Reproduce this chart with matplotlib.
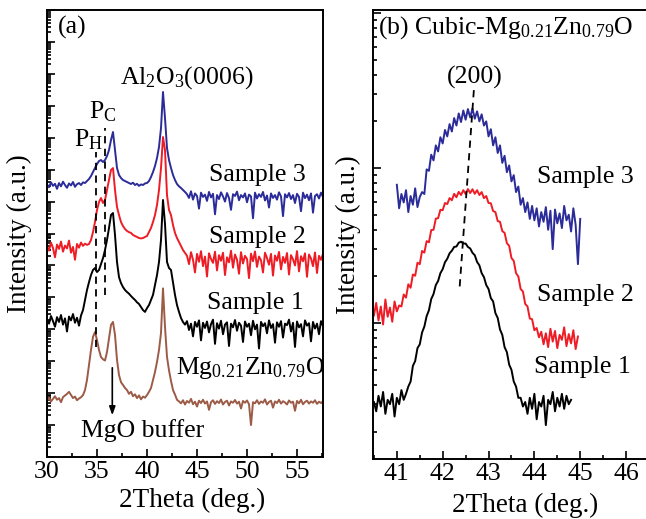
import numpy as np
import matplotlib
matplotlib.use("Agg")
import matplotlib.pyplot as plt
from matplotlib.ticker import LogLocator, NullFormatter, MultipleLocator

# ---- panel (a): wide scan, 0.2 deg steps ----
two_theta_a = np.linspace(30.0, 57.6, 139)

# Mg0.21Zn0.79O on MgO buffer (counts)
film_a = [58, 72, 55, 66, 80, 62, 70, 52, 75, 84,
          95, 110, 88, 70, 78, 60, 68, 74, 87, 125,
          260, 760, 2250, 5800, 8200, 4600, 2250, 1350, 1150, 1050,
          1950, 5300, 13700, 17000, 6700, 1100, 370, 220, 180, 145,
          125, 95, 110, 80, 92, 70, 85, 64, 78, 72,
          87, 110, 145, 260, 460, 950, 2250, 7700, 191000, 12000,
          1350, 520, 240, 125, 90,
          62, 55, 48, 60, 44, 57, 50, 66, 45, 54,
          38, 58, 49, 62, 47, 55, 30, 52, 60, 46,
          56, 49, 63, 44, 53, 58, 41, 55, 50, 61,
          47, 54, 33, 57, 50, 59, 45, 10, 52, 48,
          60, 46, 55, 50, 64, 44, 53, 58, 35, 55,
          49, 62, 47, 56, 51, 44, 59, 50, 54, 28,
          57, 48, 62, 45, 53, 58, 47, 55, 50, 60,
          46, 54, 49, 56]

sample1_a = [210, 150, 260, 180, 120, 240, 170, 280, 140, 220,
             85, 250, 190, 300, 160, 230, 130, 270, 400, 830,
             1700, 3000, 5000, 7200, 8300, 6200, 7200, 11100, 17000, 30400,
             62500, 149000, 380000, 438000, 90000, 12800, 4300, 2800, 2100, 1700,
             1470, 1300, 1100, 950, 830, 700, 620, 500, 400, 350,
             460, 575, 830, 1190, 2440, 5000, 12800, 62500, 1120000, 200000,
             12800, 8300, 7200, 3000, 1190,
             575, 350, 225, 169, 140, 180, 95, 150, 60, 170,
             120, 190, 45, 160, 110, 175, 80, 145, 200, 35,
             155, 105, 185, 70, 140, 165, 30, 150, 115, 195,
             90, 160, 130, 40, 175, 120, 150, 65, 185, 100,
             140, 25, 170, 125, 155, 75, 190, 110, 145, 38,
             165, 120, 180, 55, 150, 135, 200, 85, 160, 28,
             175, 115, 145, 60, 190, 130, 155, 42, 170, 105,
             150, 70, 180, 125]

sample2_a = [400, 290, 520, 350, 180, 450, 330, 560, 270, 420,
             340, 600, 250, 380, 150, 470, 360, 520, 410, 480,
             440, 469, 625, 1110, 2290, 5440, 9690, 12900, 9020, 11200,
             23000, 47300, 97300, 112000, 23000, 6770, 3790, 2290, 1720, 1380,
             1200, 1100, 1040, 900, 834, 780, 722, 700, 722, 780,
             834, 1110, 1490, 2290, 3790, 7800, 23000, 112000, 1050000, 412000,
             16000, 5440, 3790, 1850, 1040,
             722, 541, 405, 304, 245, 200, 110, 260, 150, 60,
             230, 130, 280, 95, 190, 45, 240, 160, 120, 270,
             70, 210, 140, 250, 50, 180, 125, 290, 85, 220,
             150, 55, 260, 115, 200, 160, 40, 235, 135, 275,
             90, 190, 145, 60, 250, 170, 105, 230, 48, 205,
             140, 265, 75, 185, 120, 245, 52, 210, 155, 100,
             280, 65, 195, 135, 240, 44, 220, 165, 95, 255,
             58, 200, 150, 230]

sample3_a = [350, 280, 400, 310, 360, 250, 380, 300, 420, 330,
             270, 370, 320, 410, 290, 350, 380, 330, 400, 381,
             441, 509, 632, 844, 1125, 1500, 1860, 2000, 1730, 2000,
             2670, 4120, 8470, 15100, 4120, 1125, 680, 547, 473, 440,
             410, 380, 355, 390, 330, 360, 310, 345, 330, 370,
             381, 441, 588, 844, 1300, 2310, 5120, 20100, 270000, 41400,
             4760, 2000, 1125, 680, 473,
             355, 300, 266, 230, 200, 170, 130, 210, 115, 180,
             150, 60, 190, 140, 165, 105, 200, 135, 175, 40,
             160, 120, 195, 145, 100, 185, 130, 55, 170, 150,
             205, 110, 160, 135, 180, 95, 165, 145, 30, 190,
             125, 170, 140, 200, 108, 155, 65, 180, 130, 160,
             115, 195, 145, 35, 170, 135, 185, 120, 160, 90,
             175, 140, 50, 190, 128, 165, 110, 180, 45, 150,
             170, 125, 190, 140]

# vertical stacking factors for panel (a)
stack_a = {"film": 1, "s1": 1e2, "s2": 1e4, "s3": 1e6}

# ---- panel (b): cubic (200) region, 0.05 deg steps ----
two_theta_b1 = np.linspace(40.5, 44.8, 87)
two_theta_b2 = np.linspace(40.5, 44.95, 90)
two_theta_b3 = np.linspace(41.0, 45.0, 81)

sample1_b = [3.1, 2.7, 3.4, 2.9, 3.6, 2.6, 3.2, 3.0, 3.5, 2.5, 3.3, 3.0, 3.7, 3.2,
             3.5, 3.9, 4.2, 5.3, 5.7, 6.9, 7.3, 8.7, 9.5, 11.1, 12.1, 14.3, 15.4, 17.6, 18.7, 21.0,
             22.3, 24.7, 26.0, 28.2, 29.3, 31.0, 31.2, 33.0, 33.5, 32.6,
             32.6, 31.0, 30.3, 28.4, 27.4, 24.8, 23.6, 21.0, 19.8, 17.6,
             16.6, 14.5, 13.8, 11.6, 10.8, 9.1, 8.4, 7.0, 6.5, 5.4,
             5.0, 4.2, 3.9, 3.3, 3.3, 2.9, 3.1,
             2.6, 3.3, 2.8, 3.5, 2.4, 3.1, 2.9, 3.4, 2.2, 3.2,
             3.0, 3.6, 2.7, 3.3, 2.9, 3.5, 2.8, 3.4, 3.0, 3.2]

sample2_b = [11.2, 13.5, 10.4, 12.8, 9.8, 14.2, 11.0, 12.6, 10.2, 13.8, 11.9,
             13.0, 12.8, 15.3, 14.6, 17.8, 16.9, 20.6, 20.2, 24.5, 24.0,
             29.2, 28.5, 33.8, 33.2, 39.8, 40.0, 47.2, 47.5, 53.8,
             53.5, 59.5, 58.6, 64.0, 62.0, 68.2, 64.8, 70.2, 67.0, 72.0,
             68.0, 73.2, 69.0, 73.0, 68.2, 72.0, 67.0, 70.0, 64.0, 66.0,
             59.5, 59.3, 52.8, 52.0, 45.5, 45.0, 39.2, 38.2, 32.8, 31.5,
             26.3, 25.2, 21.0, 20.0, 16.6, 16.0, 13.3, 12.8, 10.7, 10.6,
             9.0, 9.3, 8.1,
             8.8, 7.3, 8.6, 7.0, 9.2, 7.6, 8.9, 6.9, 8.4, 7.8, 9.4, 7.1,
             8.5, 7.4, 9.0, 6.8, 8.2]

sample3_b = [78, 55, 68, 60, 72, 52, 66, 58, 74, 56, 65,
             70, 68, 98, 96, 122, 112, 140, 128, 158,
             144, 176, 160, 192, 172, 210, 188, 225, 198, 235,
             205, 240, 212, 242, 208, 232, 200, 222, 188, 200,
             160, 178, 140, 158, 125, 140, 108, 120, 94, 104,
             82, 90, 70, 76, 58, 64, 52, 60, 47, 57,
             46,
             55, 42, 52, 45, 56, 40, 53, 30, 54, 44,
             51, 41, 57, 46, 50, 39, 55, 43, 24, 47]

c_blue = "#2b2b9a"
c_red = "#ee1c25"
c_brown = "#9c5b46"
fs = 18.5

plt.rcParams["font.family"] = "Liberation Serif"
plt.rcParams["mathtext.fontset"] = "custom"
plt.rcParams["mathtext.rm"] = "Liberation Serif"
plt.rcParams["mathtext.it"] = "Liberation Serif:italic"

fig = plt.figure(figsize=(6.46, 5.19), dpi=100)
ax1 = fig.add_axes([47 / 646, 62 / 519, 276 / 646, 447 / 519])
ax2 = fig.add_axes([373 / 646, 60 / 519, 276 / 646, 449 / 519])


def style(ax):
    ax.set_yscale("log")
    ax.yaxis.set_major_locator(LogLocator(base=10, numticks=40))
    ax.yaxis.set_minor_locator(LogLocator(base=10, subs=np.arange(2, 10), numticks=40))
    ax.yaxis.set_major_formatter(NullFormatter())
    ax.yaxis.set_minor_formatter(NullFormatter())
    ax.tick_params(which="both", direction="in", width=1.2, labelsize=fs, pad=3)
    ax.tick_params(which="major", length=6)
    ax.tick_params(which="minor", length=3)
    for sp in ax.spines.values():
        sp.set_linewidth(1.4)


# panel (a)
style(ax1)
lw = 1.4
ax1.plot(two_theta_a, np.array(film_a) * stack_a["film"], color=c_brown, lw=lw)
ax1.plot(two_theta_a, np.array(sample1_a) * stack_a["s1"], color="black", lw=lw)
ax1.plot(two_theta_a, np.array(sample2_a) * stack_a["s2"], color=c_red, lw=lw)
ax1.plot(two_theta_a, np.array(sample3_a) * stack_a["s3"], color=c_blue, lw=lw)
ax1.set_xlim(30, 57.6)
ax1.set_ylim(1, 1e14)
ax1.xaxis.set_major_locator(MultipleLocator(5))
ax1.xaxis.set_minor_locator(MultipleLocator(2.5))

# P_H and P_C guide lines, MgO buffer arrow
ax1.plot([34.9, 34.9], [2790, 3.55e9], color="black", ls=(0, (4, 3)), lw=1.3)
ax1.plot([35.83, 35.83], [1.18e5, 2.0e10], color="black", ls=(0, (4, 3)), lw=1.3)
ax1.annotate("", xy=(36.53, 16.6), xytext=(36.53, 760),
             arrowprops=dict(arrowstyle="-|>,head_length=0.5,head_width=0.18",
                             color="black", lw=1.2))

ax1.text(0.09, 0.96, "(a)", transform=ax1.transAxes, ha="center", va="center", fontsize=fs)
ax1.text(0.507, 0.848, r"Al$_2$O$_3$(0006)", transform=ax1.transAxes,
         ha="center", va="center", fontsize=fs)
ax1.text(0.203, 0.772, r"P$_\mathrm{C}$", transform=ax1.transAxes,
         ha="center", va="center", fontsize=fs)
ax1.text(0.149, 0.709, r"P$_\mathrm{H}$", transform=ax1.transAxes,
         ha="center", va="center", fontsize=fs)
ax1.text(0.761, 0.631, "Sample 3", transform=ax1.transAxes, ha="center", va="center", fontsize=fs)
ax1.text(0.761, 0.492, "Sample 2", transform=ax1.transAxes, ha="center", va="center", fontsize=fs)
ax1.text(0.754, 0.345, "Sample 1", transform=ax1.transAxes, ha="center", va="center", fontsize=fs)
ax1.text(0.736, 0.199, r"Mg$_{0.21}$Zn$_{0.79}$O", transform=ax1.transAxes,
         ha="center", va="center", fontsize=fs)
ax1.text(0.348, 0.060, "MgO buffer", transform=ax1.transAxes, ha="center", va="center", fontsize=fs)

ax1.set_xlabel("2Theta (deg.)", fontsize=19.5)
ax1.set_ylabel("Intensity (a.u.)", fontsize=19.5)
ax1.xaxis.set_label_coords(0.525, -0.068)
ax1.yaxis.set_label_coords(-0.053, 0.5)

# panel (b)
style(ax2)
ax2.plot(two_theta_b1, sample1_b, color="black", lw=lw)
ax2.plot(two_theta_b2, sample2_b, color=c_red, lw=lw)
ax2.plot(two_theta_b3, sample3_b, color=c_blue, lw=lw)
ax2.set_xlim(40.48, 46.5)
ax2.set_ylim(1.33, 1045)
ax2.xaxis.set_major_locator(MultipleLocator(1))
ax2.xaxis.set_minor_locator(MultipleLocator(0.5))

ax2.plot([42.68, 42.37], [318, 17.1], color="black", ls=(0, (4, 3)), lw=1.3)

ax2.text(0.018, 0.96, r"(b) Cubic-Mg$_{0.21}$Zn$_{0.79}$O", transform=ax2.transAxes,
         ha="left", va="center", fontsize=fs)
ax2.text(0.37, 0.849, "(200)", transform=ax2.transAxes, ha="center", va="center", fontsize=fs)
ax2.text(0.768, 0.628, "Sample 3", transform=ax2.transAxes, ha="center", va="center", fontsize=fs)
ax2.text(0.768, 0.365, "Sample 2", transform=ax2.transAxes, ha="center", va="center", fontsize=fs)
ax2.text(0.757, 0.205, "Sample 1", transform=ax2.transAxes, ha="center", va="center", fontsize=fs)

ax2.set_xlabel("2Theta (deg.)", fontsize=19.5)
ax2.set_ylabel("Intensity (a.u.)", fontsize=19.5)
ax2.xaxis.set_label_coords(0.551, -0.075)
ax2.yaxis.set_label_coords(-0.045, 0.5)

fig.savefig("out.png", dpi=100)
